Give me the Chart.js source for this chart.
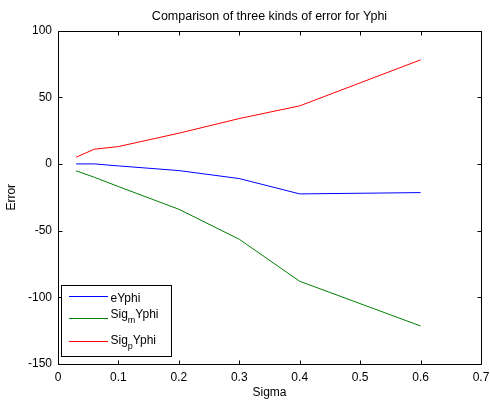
<!DOCTYPE html>
<html><head><meta charset="utf-8">
<script src="https://cdn.jsdelivr.net/npm/chart.js@4/dist/chart.umd.min.js"></script>
<style>html,body{margin:0;padding:0;background:#fff}</style>
</head><body>
<canvas id="c" width="490" height="401" style="width:490px;height:401px;display:block"></canvas>
<script>
const sigma = [0.03, 0.06, 0.1, 0.2, 0.3, 0.4, 0.6];
const eYphi = [0, 0, -1.5, -5, -11, -22.5, -21.5];
const sigmYphi = [-5.2, -10, -17, -34, -56.5, -88, -121.5];
const sigpYphi = [5, 11, 13, 23, 34, 43.5, 78];
const xTicks = [0, 0.1, 0.2, 0.3, 0.4, 0.5, 0.6, 0.7];
const yTicks = [-150, -100, -50, 0, 50, 100];
const seriesNames = ['eYphi', 'Sig_mYphi', 'Sig_pYphi'];
const seriesColors = ['rgb(0,0,255)', 'rgb(0,128,0)', 'rgb(255,0,0)'];

const FONT = "'Liberation Sans', Arial, Helvetica, sans-serif";
Chart.defaults.font.family = FONT;
Chart.defaults.font.size = 12;
Chart.defaults.color = '#000';

const pts = arr => sigma.map((s, i) => ({x: s, y: arr[i]}));

const boxPlugin = {
  id: 'matlabBox',
  afterDatasetsDraw(chart) {
    const ctx = chart.ctx, a = chart.chartArea;
    const xs = chart.scales.x, ys = chart.scales.y;
    ctx.save();
    ctx.strokeStyle = '#000';
    ctx.lineWidth = 1;
    const L = Math.round(a.left) + 0.5, R = Math.round(a.right) + 0.5;
    const T = Math.round(a.top) + 0.5, B = Math.round(a.bottom) + 0.5;
    ctx.beginPath();
    ctx.rect(L, T, R - L, B - T);
    const tl = 4;
    xTicks.forEach(v => {
      const px = Math.round(xs.getPixelForValue(v)) + 0.5;
      ctx.moveTo(px, B); ctx.lineTo(px, B - tl);
      ctx.moveTo(px, T); ctx.lineTo(px, T + tl);
    });
    yTicks.forEach(v => {
      const py = Math.round(ys.getPixelForValue(v)) + 0.5;
      ctx.moveTo(L, py); ctx.lineTo(L + tl, py);
      ctx.moveTo(R, py); ctx.lineTo(R - tl, py);
    });
    ctx.stroke();
    ctx.restore();

    // legend box
    const lx = 61.5, ly = 285.5, lw = 110, lh = 71;
    ctx.save();
    ctx.fillStyle = '#ffffff';
    ctx.fillRect(lx, ly, lw, lh);
    ctx.strokeStyle = '#000000';
    ctx.lineWidth = 1;
    ctx.strokeRect(lx, ly, lw, lh);
    ctx.restore();

    const rows = [296, 318, 341];
    const textY = [299, 315, 341];
    for (let i = 0; i < seriesNames.length; i++) {
      const ds = chart.data.datasets[i];
      ctx.save();
      ctx.fillStyle = ds.borderColor;
      ctx.fillRect(69, rows[i], 39, 1);
      ctx.restore();

      ctx.save();
      ctx.fillStyle = '#000000';
      ctx.textBaseline = 'middle';
      ctx.textAlign = 'left';
      const name = seriesNames[i];
      let x = 110.5;
      const m = name.match(/^(.*)_(.)(.*)$/);
      if (m) {
        ctx.font = '12px ' + FONT;
        ctx.fillText(m[1], x, textY[i]);
        x += ctx.measureText(m[1]).width;
        ctx.font = '9px ' + FONT;
        ctx.fillText(m[2], x, textY[i] + 5.5);
        x += ctx.measureText(m[2]).width;
        ctx.font = '12px ' + FONT;
        ctx.fillText(m[3], x, textY[i]);
      } else {
        ctx.font = '12px ' + FONT;
        ctx.fillText(name, x, textY[i]);
      }
      ctx.restore();
    }
  }
};

new Chart(document.getElementById('c'), {
  type: 'line',
  data: {
    datasets: [
      {label: seriesNames[0], data: pts(eYphi), borderColor: seriesColors[0]},
      {label: seriesNames[1], data: pts(sigmYphi), borderColor: seriesColors[1]},
      {label: seriesNames[2], data: pts(sigpYphi), borderColor: seriesColors[2]}
    ]
  },
  options: {
    responsive: false,
    animation: false,
    devicePixelRatio: 1,
    layout: {padding: {left: 0, right: 9, top: 0, bottom: 0}},
    elements: {
      line: {borderWidth: 1, tension: 0, fill: false},
      point: {radius: 0, hoverRadius: 0}
    },
    plugins: {
      legend: {display: false},
      tooltip: {enabled: false},
      title: {
        display: true,
        fullSize: false,
        text: 'Comparison of three kinds of error for Yphi',
        font: {size: 12.5, weight: 'normal', family: FONT},
        color: '#000',
        padding: {top: 9, bottom: 6.5}
      }
    },
    scales: {
      x: {
        type: 'linear', min: 0, max: 0.7,
        grid: {display: false, drawTicks: false},
        border: {display: false},
        afterBuildTicks: s => { s.ticks = xTicks.map(v => ({value: v})); },
        ticks: {padding: 6, maxRotation: 0, autoSkip: false,
          callback: v => String(+Number(v).toFixed(1)), color: '#000'},
        title: {display: true, text: 'Sigma', color: '#000',
          font: {size: 12, family: FONT}, padding: {top: 0, bottom: 1}},
        afterFit: s => { s.height = 37; s.paddingLeft = 0; s.paddingRight = 0; }
      },
      y: {
        type: 'linear', min: -150, max: 100,
        grid: {display: false, drawTicks: false},
        border: {display: false},
        afterBuildTicks: s => { s.ticks = yTicks.map(v => ({value: v})); },
        ticks: {padding: 6, autoSkip: false, color: '#000',
          callback: v => String(v)},
        title: {display: true, text: 'Error', color: '#000',
          font: {size: 12, family: FONT}, padding: {top: 4.8, bottom: 0}},
        afterFit: s => { s.width = 58; s.paddingTop = 0; s.paddingBottom = 0; }
      }
    }
  },
  plugins: [boxPlugin]
});
</script>
</body></html>
